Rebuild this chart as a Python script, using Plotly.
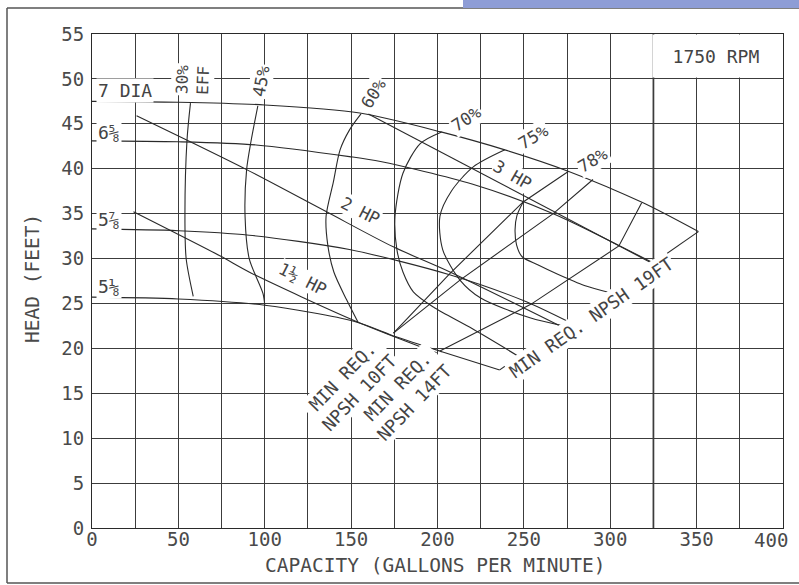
import plotly.graph_objects as go

# Impeller diameter head-capacity curves (GPM, feet)
d7_x = [0, 50, 100, 155, 202, 239, 276, 319, 351]
d7_y = [47.5, 47.4, 47.1, 46.2, 44.1, 42.1, 39.7, 36.2, 33.0]
d658_x = [0, 50, 95, 149, 167, 220, 267, 325]
d658_y = [43.1, 43.0, 42.65, 41.35, 40.8, 38.3, 35.0, 29.5]
d578_x = [0, 50, 91, 149, 207, 250, 276.5]
d578_y = [33.3, 33.1, 32.6, 31.0, 28.2, 25.3, 22.9]
d518_x = [0, 50, 100, 152, 176, 203, 236]
d518_y = [25.7, 25.5, 24.8, 23.0, 21.3, 19.6, 17.6]

# Iso-efficiency curves
e30_x = [57, 55, 53.8, 54.5, 58.6]
e30_y = [47.3, 43.2, 35, 30, 25.8]
e45_x = [96, 92, 89.5, 88.6, 91, 99, 100]
e45_y = [47.0, 43, 39.9, 34.7, 30, 26.1, 24.8]
e60_x = [155.7, 149, 143.6, 139.7, 135.5, 136.5, 140, 147.4, 154]
e60_y = [46.1, 44.3, 42.1, 38.5, 34.7, 31.5, 28.5, 25.4, 22.9]
e70_x = [202.4, 190, 180, 175.4, 176.5, 180, 186, 197.6, 220, 247]
e70_y = [44.1, 42.8, 39.5, 34.7, 31.0, 28.5, 26.3, 24.6, 22.2, 19.1]
e75_x = [239, 220.7, 208, 201.4, 203, 213, 225, 253.5, 273]
e75_y = [42.1, 40.2, 37.5, 34.7, 31, 27.6, 25.6, 23.4, 22.5]
e78_x = [249.6, 246, 244.9, 245.8, 249, 258, 269, 285, 300]
e78_y = [36.3, 34.8, 33.2, 31.5, 30.2, 29.3, 28.3, 27.0, 26.2]

# Brake horsepower lines
hp15_x = [24, 74, 92, 153, 199.5]
hp15_y = [35.2, 30.3, 28.4, 23.0, 19.5]
hp2_x = [25.8, 54.8, 89.5, 135.8, 174.4, 207.2, 273]
hp2_y = [45.9, 43.2, 39.9, 35.2, 31.3, 28.5, 22.3]
hp3_x = [160, 325]
hp3_y = [46.1, 29.4]

# Minimum required NPSH lines (vertices on each impeller curve)
npsh10_x = [174.5, 207, 249.6, 275.7]
npsh10_y = [21.7, 28.3, 36.3, 39.7]
npsh12_x = [174.5, 213, 267, 290]
npsh12_y = [21.7, 27.6, 35.0, 38.8]
npsh14_x = [201.4, 254, 305, 318.2]
npsh14_y = [19.7, 24.9, 31.4, 36.2]
npsh19_x = [236, 351]
npsh19_y = [17.6, 33.0]

x_ticks = list(range(0, 351, 50))
y_ticks = list(range(0, 56, 5))

LINE = "#2a2a2a"
TXT = "#444444"
AXT = "#4a4a4a"
FONT = "DejaVu Sans Mono"

fig = go.Figure()


def curve(xs, ys, smooth=True, width=1.1):
    fig.add_trace(go.Scatter(
        x=xs, y=ys, mode="lines",
        line=dict(color=LINE, width=width, shape="spline" if smooth else "linear",
                  smoothing=0.8),
        hoverinfo="skip", showlegend=False))


for xs, ys in [(d7_x, d7_y), (d658_x, d658_y), (d578_x, d578_y), (d518_x, d518_y)]:
    curve(xs, ys)
for xs, ys in [(e30_x, e30_y), (e45_x, e45_y), (e60_x, e60_y), (e70_x, e70_y),
               (e75_x, e75_y), (e78_x, e78_y)]:
    curve(xs, ys)
for xs, ys in [(hp15_x, hp15_y), (hp2_x, hp2_y)]:
    curve(xs, ys, smooth=True)
curve(hp3_x, hp3_y, smooth=False)
for xs, ys in [(npsh10_x, npsh10_y), (npsh12_x, npsh12_y), (npsh14_x, npsh14_y),
               (npsh19_x, npsh19_y)]:
    curve(xs, ys, smooth=False)

# heavier vertical rule at 325 GPM
fig.add_shape(type="line", x0=325, x1=325, y0=0, y1=55, xref="x", yref="y",
              line=dict(color="#111", width=1.6), layer="below")


def label(text, x, y, angle=0, size=18, anchor="center", pad=1):
    fig.add_annotation(x=x, y=y, text=text, showarrow=False, textangle=angle,
                       font=dict(family=FONT, size=size, color=TXT),
                       xanchor=anchor, yanchor="middle", bgcolor="white", borderpad=pad)


label("7 DIA", 2.6, 48.7, anchor="left")
label("6⅝", 2.6, 44.0, anchor="left")
label("5⅞", 2.6, 34.3, anchor="left")
label("5⅛", 2.6, 26.9, anchor="left")
label("30%<br>EFF", 58.2, 49.9, angle=-88, size=16)
label("45%", 97.8, 49.8, angle=-80, size=17)
label("60%", 163.2, 48.4, angle=-58, size=17)
label("70%", 216.5, 45.5, angle=-33, size=17)
label("75%", 255.3, 43.5, angle=-31, size=17)
label("78%", 290.0, 41.0, angle=-31, size=17)
label("2 HP", 155.6, 35.3, angle=27, size=17, pad=0)
label("1½ HP", 121.8, 27.7, angle=27, size=17, pad=0)
label("3 HP", 243.5, 39.3, angle=30, size=17, pad=0)
label("MIN REQ.<br>NPSH 10FT", 150.0, 16.0, angle=-46, size=18)
label("MIN REQ.<br>NPSH 14FT", 181.8, 14.9, angle=-46, size=18)
label("MIN REQ. NPSH 19FT", 289.0, 23.4, angle=-35, size=18)
fig.add_annotation(x=361, y=52.5, text="1750 RPM", showarrow=False,
                   font=dict(family=FONT, size=18, color=TXT),
                   bgcolor="white", width=124, height=40)

# last capacity tick label sits just inside the frame
fig.add_annotation(xref="paper", yref="paper", x=(771 - 92) / 691, y=(528 - 540) / 494,
                   text="400", showarrow=False, xanchor="center", yanchor="middle",
                   font=dict(family=FONT, size=19, color=AXT))

# axis titles
fig.add_annotation(xref="paper", yref="paper", x=(435 - 92) / 691, y=(528 - 565) / 494,
                   text="CAPACITY (GALLONS PER MINUTE)", showarrow=False,
                   xanchor="center", yanchor="middle",
                   font=dict(family=FONT, size=19.5, color=AXT))
fig.add_annotation(xref="paper", yref="paper", x=(32 - 92) / 691, y=(528 - 279) / 494,
                   text="HEAD (FEET)", showarrow=False, textangle=-90,
                   xanchor="center", yanchor="middle",
                   font=dict(family=FONT, size=19.5, color=AXT))

# outer frame (left, top, bottom) and top tab
px = lambda v: (v - 92) / 691
py = lambda v: (528 - v) / 494
for x0, y0, x1, y1 in [(7, 8, 7, 583), (7, 8, 799, 8), (7, 583, 799, 583)]:
    fig.add_shape(type="line", xref="paper", yref="paper",
                  x0=px(x0), y0=py(y0), x1=px(x1), y1=py(y1),
                  line=dict(color="#555", width=1.5), layer="below")
fig.add_shape(type="rect", xref="paper", yref="paper",
              x0=px(463), x1=px(800), y0=py(8), y1=py(-2),
              line=dict(width=0), fillcolor="#8e9dd6", layer="below")

axis_common = dict(showline=True, linecolor=LINE, linewidth=1, mirror=True,
                   showgrid=True, gridcolor="#3c3c3c", gridwidth=1,
                   zeroline=False, ticks="", automargin=False,
                   tickfont=dict(family=FONT, size=19, color=AXT))

fig.update_layout(
    width=799, height=585,
    margin=dict(l=92, r=16, t=34, b=57),
    paper_bgcolor="white", plot_bgcolor="white",
    xaxis=dict(range=[0, 400], tickvals=x_ticks, ticktext=[str(v) for v in x_ticks],
               ticklabelstandoff=-6,
               minor=dict(dtick=25, showgrid=True, gridcolor="#3c3c3c", gridwidth=1),
               **axis_common),
    yaxis=dict(range=[0, 55], tickvals=y_ticks, ticktext=[str(v) for v in y_ticks],
               ticklabelstandoff=3,
               **axis_common),
)

fig.write_html("out.html")
